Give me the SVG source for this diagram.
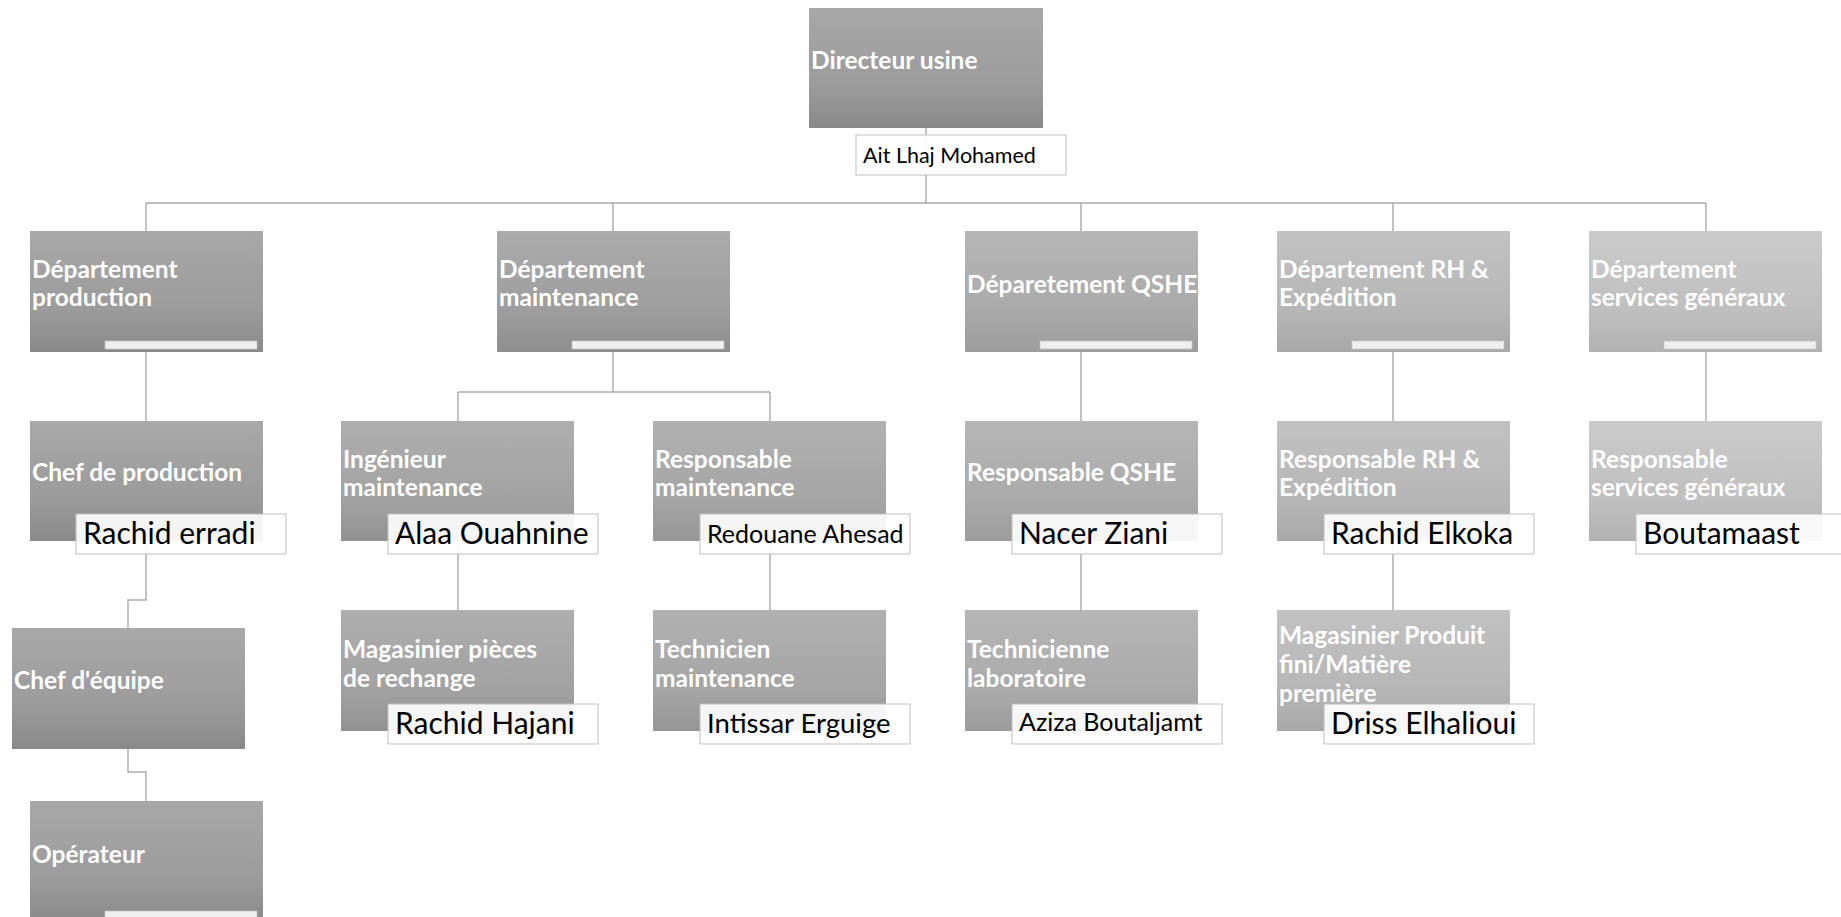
<svg xmlns="http://www.w3.org/2000/svg" width="1841" height="917" viewBox="0 0 1841 917">
<style>
.t{font-family:Lato,"Liberation Sans",sans-serif;font-weight:700;font-size:24.5px;fill:#ffffff}
.n{font-family:Lato,"Liberation Sans",sans-serif;font-weight:400;font-size:30px;fill:#000000}
.nb{fill:#ffffff;fill-opacity:0.9;stroke:#bfbfbf;stroke-width:1}
.bar{fill:#efefef;stroke:#c4c4c4;stroke-width:0.75}
.c{fill:none;stroke:#a9a9a9;stroke-width:1.4}
</style>
<defs>
<linearGradient id="gA" x1="0" y1="0" x2="0" y2="1"><stop offset="0" stop-color="#a8a8a8"/><stop offset="0.65" stop-color="#9b9b9b"/><stop offset="1" stop-color="#898989"/></linearGradient>
<linearGradient id="gB" x1="0" y1="0" x2="0" y2="1"><stop offset="0" stop-color="#ababab"/><stop offset="0.65" stop-color="#9e9e9e"/><stop offset="1" stop-color="#8d8d8d"/></linearGradient>
<linearGradient id="gB2" x1="0" y1="0" x2="0" y2="1"><stop offset="0" stop-color="#aeaeae"/><stop offset="0.65" stop-color="#a2a2a2"/><stop offset="1" stop-color="#929292"/></linearGradient>
<linearGradient id="gC" x1="0" y1="0" x2="0" y2="1"><stop offset="0" stop-color="#b1b1b1"/><stop offset="0.65" stop-color="#a5a5a5"/><stop offset="1" stop-color="#969696"/></linearGradient>
<linearGradient id="gD" x1="0" y1="0" x2="0" y2="1"><stop offset="0" stop-color="#b6b6b6"/><stop offset="0.65" stop-color="#aaaaaa"/><stop offset="1" stop-color="#9c9c9c"/></linearGradient>
<linearGradient id="gE" x1="0" y1="0" x2="0" y2="1"><stop offset="0" stop-color="#c2c2c2"/><stop offset="0.65" stop-color="#b6b6b6"/><stop offset="1" stop-color="#a8a8a8"/></linearGradient>
<linearGradient id="gF" x1="0" y1="0" x2="0" y2="1"><stop offset="0" stop-color="#cbcbcb"/><stop offset="0.65" stop-color="#bfbfbf"/><stop offset="1" stop-color="#b2b2b2"/></linearGradient>
</defs>

<g id="connectors">
<path class="c" d="M926 128V203M146 203H1706M146 203V231M613 203V231M1081 203V231M1393 203V231M1706 203V231"/>
<path class="c" d="M146 352V421"/>
<path class="c" d="M613 352V392M458 392H770M458 392V421M770 392V421"/>
<path class="c" d="M1081 352V421M1393 352V421M1706 352V421"/>
<path class="c" d="M458 541V610M770 541V610M1081 541V610M1393 541V610"/>
<path class="c" d="M146 541V600H128V628"/>
<path class="c" d="M128 749V772H146V801"/>
</g>

<g id="directeur">
<rect x="809" y="8" width="234" height="120" fill="url(#gA)"/>
<text class="t" x="811" y="69">Directeur usine</text>
<rect class="nb" x="856" y="135" width="210" height="40"/>
<text class="n" x="863" y="163" style="font-size:21.5px">Ait Lhaj Mohamed</text>
</g>

<g id="dept-production">
<rect x="30" y="231" width="233" height="121" fill="url(#gA)"/>
<text class="t" x="32" y="278">Département</text>
<text class="t" x="32" y="306">production</text>
<rect class="bar" x="105" y="341" width="152" height="8"/>
</g>

<g id="dept-maintenance">
<rect x="497" y="231" width="233" height="121" fill="url(#gB)"/>
<text class="t" x="499" y="278">Département</text>
<text class="t" x="499" y="306">maintenance</text>
<rect class="bar" x="572" y="341" width="152" height="8"/>
</g>

<g id="dept-qshe">
<rect x="965" y="231" width="233" height="121" fill="url(#gD)"/>
<text class="t" x="967" y="293">Déparetement QSHE</text>
<rect class="bar" x="1040" y="341" width="152" height="8"/>
</g>

<g id="dept-rh">
<rect x="1277" y="231" width="233" height="121" fill="url(#gE)"/>
<text class="t" x="1279" y="278">Département RH &amp;</text>
<text class="t" x="1279" y="306">Expédition</text>
<rect class="bar" x="1352" y="341" width="152" height="8"/>
</g>

<g id="dept-services">
<rect x="1589" y="231" width="233" height="121" fill="url(#gF)"/>
<text class="t" x="1591" y="278">Département</text>
<text class="t" x="1591" y="306">services généraux</text>
<rect class="bar" x="1664" y="341" width="152" height="8"/>
</g>

<g id="chef-production">
<rect x="30" y="421" width="233" height="120" fill="url(#gA)"/>
<text class="t" x="32" y="481">Chef de production</text>
<rect class="nb" x="76" y="514" width="210" height="40"/>
<text class="n" x="83" y="544">Rachid erradi</text>
</g>

<g id="ingenieur-maintenance">
<rect x="341" y="421" width="233" height="120" fill="url(#gB2)"/>
<text class="t" x="343" y="468">Ingénieur</text>
<text class="t" x="343" y="496">maintenance</text>
<rect class="nb" x="388" y="514" width="210" height="40"/>
<text class="n" x="395" y="544">Alaa Ouahnine</text>
</g>

<g id="responsable-maintenance">
<rect x="653" y="421" width="233" height="120" fill="url(#gC)"/>
<text class="t" x="655" y="468">Responsable</text>
<text class="t" x="655" y="496">maintenance</text>
<rect class="nb" x="700" y="514" width="210" height="40"/>
<text class="n" x="707" y="543" style="font-size:25px">Redouane Ahesad</text>
</g>

<g id="responsable-qshe">
<rect x="965" y="421" width="233" height="120" fill="url(#gD)"/>
<text class="t" x="967" y="481">Responsable QSHE</text>
<rect class="nb" x="1012" y="514" width="210" height="40"/>
<text class="n" x="1019" y="544">Nacer Ziani</text>
</g>

<g id="responsable-rh">
<rect x="1277" y="421" width="233" height="120" fill="url(#gE)"/>
<text class="t" x="1279" y="468">Responsable RH &amp;</text>
<text class="t" x="1279" y="496">Expédition</text>
<rect class="nb" x="1324" y="514" width="210" height="40"/>
<text class="n" x="1331" y="544">Rachid Elkoka</text>
</g>

<g id="responsable-services">
<rect x="1589" y="421" width="233" height="120" fill="url(#gF)"/>
<text class="t" x="1591" y="468">Responsable</text>
<text class="t" x="1591" y="496">services généraux</text>
<rect class="nb" x="1636" y="514" width="210" height="40"/>
<text class="n" x="1643" y="544">Boutamaast</text>
</g>

<g id="chef-equipe">
<rect x="12" y="628" width="233" height="121" fill="url(#gA)"/>
<text class="t" x="14" y="689">Chef d'équipe</text>
</g>

<g id="operateur">
<rect x="30" y="801" width="233" height="121" fill="url(#gA)"/>
<text class="t" x="32" y="863">Opérateur</text>
<rect class="bar" x="105" y="911" width="152" height="8"/>
</g>

<g id="magasinier-pieces">
<rect x="341" y="610" width="233" height="121" fill="url(#gB2)"/>
<text class="t" x="343" y="658">Magasinier pièces</text>
<text class="t" x="343" y="687">de rechange</text>
<rect class="nb" x="388" y="704" width="210" height="40"/>
<text class="n" x="395" y="734">Rachid Hajani</text>
</g>

<g id="technicien-maintenance">
<rect x="653" y="610" width="233" height="121" fill="url(#gC)"/>
<text class="t" x="655" y="658">Technicien</text>
<text class="t" x="655" y="687">maintenance</text>
<rect class="nb" x="700" y="704" width="210" height="40"/>
<text class="n" x="707" y="733" style="font-size:27.5px">Intissar Erguige</text>
</g>

<g id="technicienne-laboratoire">
<rect x="965" y="610" width="233" height="121" fill="url(#gD)"/>
<text class="t" x="967" y="658">Technicienne</text>
<text class="t" x="967" y="687">laboratoire</text>
<rect class="nb" x="1012" y="704" width="210" height="40"/>
<text class="n" x="1019" y="731" style="font-size:25px">Aziza Boutaljamt</text>
</g>

<g id="magasinier-produit">
<rect x="1277" y="610" width="233" height="121" fill="url(#gE)"/>
<text class="t" x="1279" y="644">Magasinier Produit</text>
<text class="t" x="1279" y="673">fini/Matière</text>
<text class="t" x="1279" y="702">première</text>
<rect class="nb" x="1324" y="704" width="210" height="40"/>
<text class="n" x="1331" y="734">Driss Elhalioui</text>
</g>
</svg>
